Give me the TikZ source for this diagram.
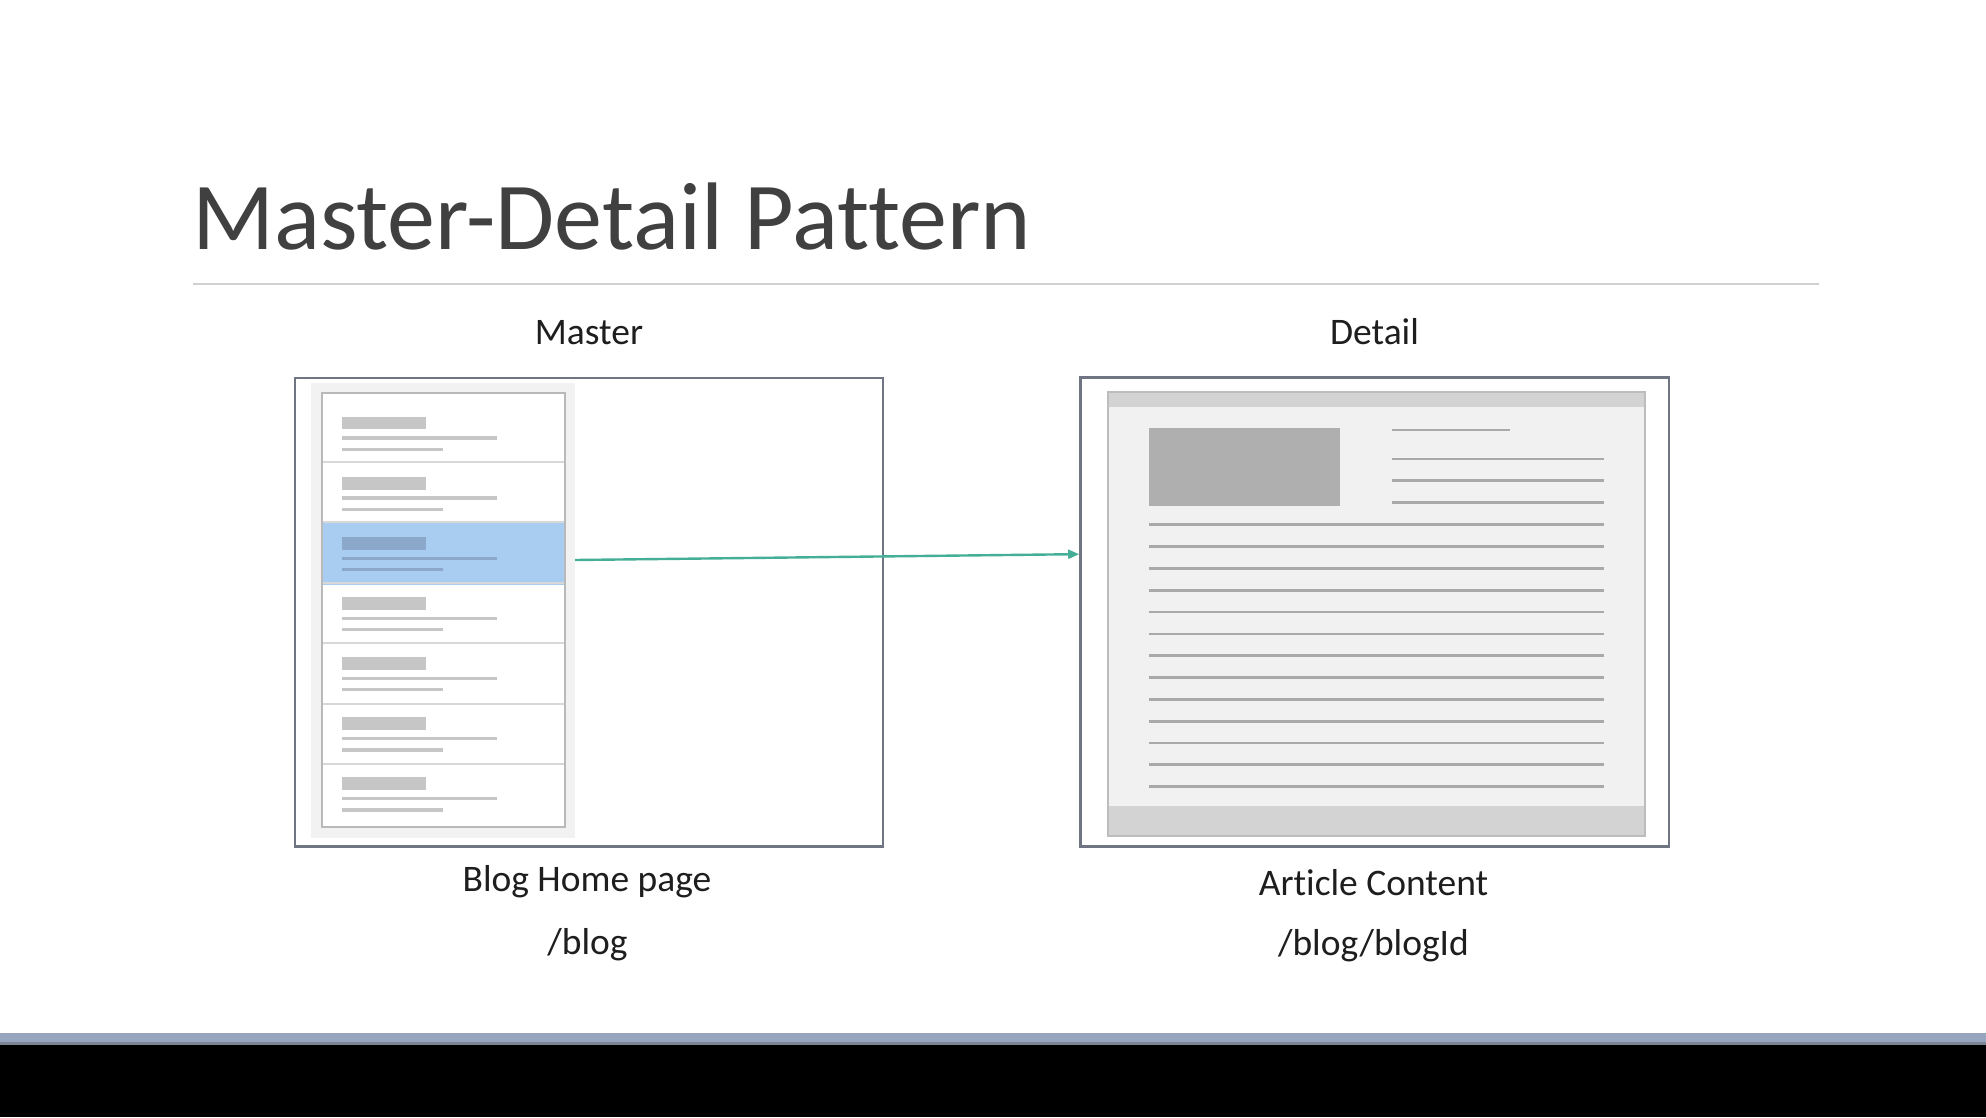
\documentclass[tikz,border=0pt]{standalone}
\usepackage{fontspec}
\setmainfont{Carlito}[Ligatures=NoCommon]
\usetikzlibrary{arrows.meta}

\definecolor{titlegrey}{HTML}{404040}
\definecolor{labelink}{HTML}{1E1E1E}
\definecolor{rulegrey}{HTML}{D0D0D0}
\definecolor{framegrey}{HTML}{6F7582}
\definecolor{panelgrey}{HTML}{F2F2F2}
\definecolor{listedge}{HTML}{B9B9B9}
\definecolor{divider}{HTML}{D8D8D8}
\definecolor{itemgrey}{HTML}{C6C6C6}
\definecolor{selblue}{HTML}{A9CCF1}
\definecolor{selitem}{HTML}{8BA8CA}
\definecolor{pagefill}{HTML}{F1F1F1}
\definecolor{pageedge}{HTML}{BDBDBD}
\definecolor{barfill}{HTML}{D3D3D3}
\definecolor{imgfill}{HTML}{AFAFAF}
\definecolor{textline}{HTML}{A9A9A9}
\definecolor{linkteal}{HTML}{45AE96}
\definecolor{footblue}{HTML}{97A5BE}
\definecolor{footedge}{HTML}{7D8595}

\tikzset{
  screen/.style={draw=framegrey, line width=2.6pt, fill=white, inner sep=0pt},
  caption/.style={text=labelink, font=\fontsize{37.5}{42}\selectfont, anchor=base, inner sep=0pt},
  heading/.style={text=titlegrey, font=\fontsize{96}{106}\selectfont, anchor=base west, inner sep=0pt},
  link/.style={draw=linkteal, line width=2.4pt, -{Triangle[length=11pt,width=9pt]}},
}

\begin{document}
\begin{tikzpicture}[x=1pt, y=-1pt]
\useasboundingbox (0,0) rectangle (1986,1117);
\fill[white] (0,0) rectangle (1986,1117);

% slide title and rule
\node[heading] (title) at (192,249.5) {Master-Detail Pattern};
\draw[rulegrey, line width=2pt] (192.5,283.7) -- (1819,283.7);

% column headings
\node[caption] (mastercap) at (589,344.3) {Master};
\node[caption] (detailcap) at (1374.5,344.3) {Detail};

% the two screens
\node[screen, minimum width=588pt, minimum height=468.5pt] (master) at (589,612.3) {};
\node[screen, minimum width=588.5pt, minimum height=468.5pt] (detail) at (1374.75,612) {};

% list of posts on the master screen
\fill[panelgrey] (310.7,383.3) rectangle (575,838.3);
\fill[white] (321.7,393.3) rectangle (565,827.3);
\node[fill=selblue, inner sep=0pt, minimum width=243pt, minimum height=61.7pt] (selrow) at (443.35,554.15) {};
\foreach \k in {0,...,5}
  \draw[divider, line width=1.6pt] (321.7,461.7+60.5*\k) -- (565,461.7+60.5*\k);
\foreach \i in {0,...,6}{
  \pgfmathsetmacro{\yc}{423+60.12*\i}
  \ifnum\i=2 \def\ic{selitem}\else \def\ic{itemgrey}\fi
  \fill[\ic] (341.7,\yc-6.4) rectangle (426,\yc+6.4);
  \fill[\ic] (341.7,\yc+13.3) rectangle (496.7,\yc+16.7);
  \fill[\ic] (341.7,\yc+24.6) rectangle (443.3,\yc+28);
}
\draw[listedge, line width=1.8pt] (321.7,393.3) rectangle (565,827.3);

% article page on the detail screen
\fill[pagefill] (1107.6,391.7) rectangle (1644.6,836);
\fill[barfill] (1107.6,391.7) rectangle (1644.6,407.3);
\fill[barfill] (1107.6,806) rectangle (1644.6,836);
\draw[pageedge, line width=2pt] (1107.6,391.7) rectangle (1644.6,836);
\fill[imgfill] (1148.6,428.3) rectangle (1339.7,506);
\draw[textline, line width=2.7pt] (1391.5,430) -- (1509.6,430);
\foreach \j in {0,1,2}
  \draw[textline, line width=2.7pt] (1391.5,459+21.83*\j) -- (1603.6,459+21.83*\j);
\foreach \j in {0,...,12}
  \draw[textline, line width=2.7pt] (1148.6,524.7+21.83*\j) -- (1603.6,524.7+21.83*\j);

% selecting a post opens its article
\coordinate (linkstart) at (575,560);
\draw[link] (linkstart) -- (detail.west |- selrow);

% captions under the screens
\node[caption] (mastername) at (587,891) {Blog Home page};
\node[caption] (masterroute) at (587.5,954) {/blog};
\node[caption] (detailname) at (1373.5,895) {Article Content};
\node[caption] (detailroute) at (1373.5,955) {/blog/blogId};

% bottom bar
\fill[footblue] (0,1033.3) rectangle (1986,1042.4);
\fill[footedge] (0,1042.4) rectangle (1986,1045);
\fill[black] (0,1045) rectangle (1986,1117);
\end{tikzpicture}
\end{document}
